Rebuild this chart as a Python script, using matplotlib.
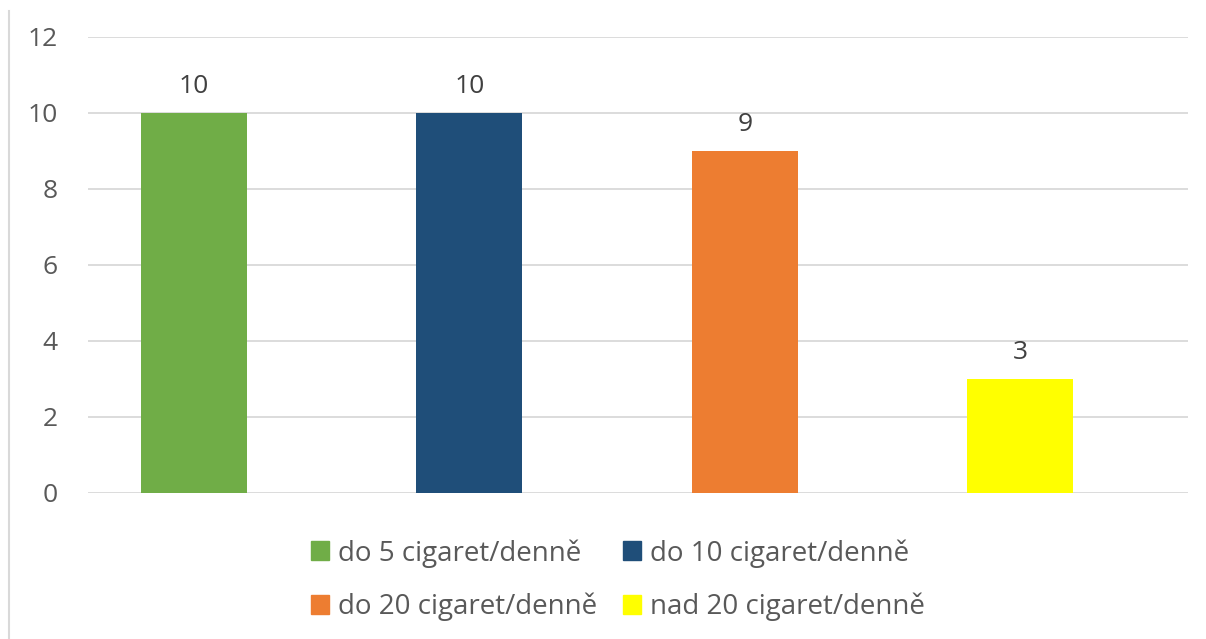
import matplotlib.pyplot as plt
from matplotlib.patches import Patch
from matplotlib.lines import Line2D

kategorie = ["do 5 cigaret/denně", "do 10 cigaret/denně",
             "do 20 cigaret/denně", "nad 20 cigaret/denně"]
pocty = [10, 10, 9, 3]
barvy = ["#70AD47", "#1F4E79", "#ED7D31", "#FFFF00"]

plt.rcParams['font.family'] = ['Open Sans', 'DejaVu Sans']

fig = plt.figure(figsize=(12.06, 6.39), dpi=100)
ax = fig.add_axes([88 / 1206, 1 - 493 / 639, 1100 / 1206, 456 / 639])

pozice = range(len(pocty))
ax.bar(pozice, pocty, width=0.386, color=barvy, zorder=3)

for x, v in zip(pozice, pocty):
    ax.annotate(str(v), (x, v), xytext=(0, 10), textcoords="offset points",
                ha="center", va="bottom", fontsize=19, color="#404040")

ax.set_ylim(0, 12)
ax.set_yticks(range(0, 13, 2))
ax.set_xlim(-0.385, 3.61)
ax.set_xticks([])
ax.grid(axis="y", color="#d9d9d9", linewidth=1.3, zorder=0)
ax.tick_params(axis="y", length=0, pad=22, labelsize=19, labelcolor="#595959")
for s in ax.spines.values():
    s.set_visible(False)

# ramecek grafu vlevo
fig.add_artist(Line2D([9 / 1206, 9 / 1206], [0, 1 - 11 / 639],
                      transform=fig.transFigure, color="#d9d9d9", linewidth=1.5))

# legenda po radcich: matplotlib plni sloupce, proto preskladat
poradi = [0, 2, 1, 3]
handles = [Patch(color=barvy[i]) for i in poradi]
popisky = [kategorie[i] for i in poradi]
fig.legend(handles, popisky, loc="center", bbox_to_anchor=(618 / 1206, 1 - 580 / 639),
           ncol=2, frameon=False, fontsize=20, labelcolor="#595959",
           handlelength=0.65, handleheight=0.65, handletextpad=0.3,
           columnspacing=0.95, labelspacing=0.9, borderpad=0)

fig.savefig("out.png", dpi=100)
